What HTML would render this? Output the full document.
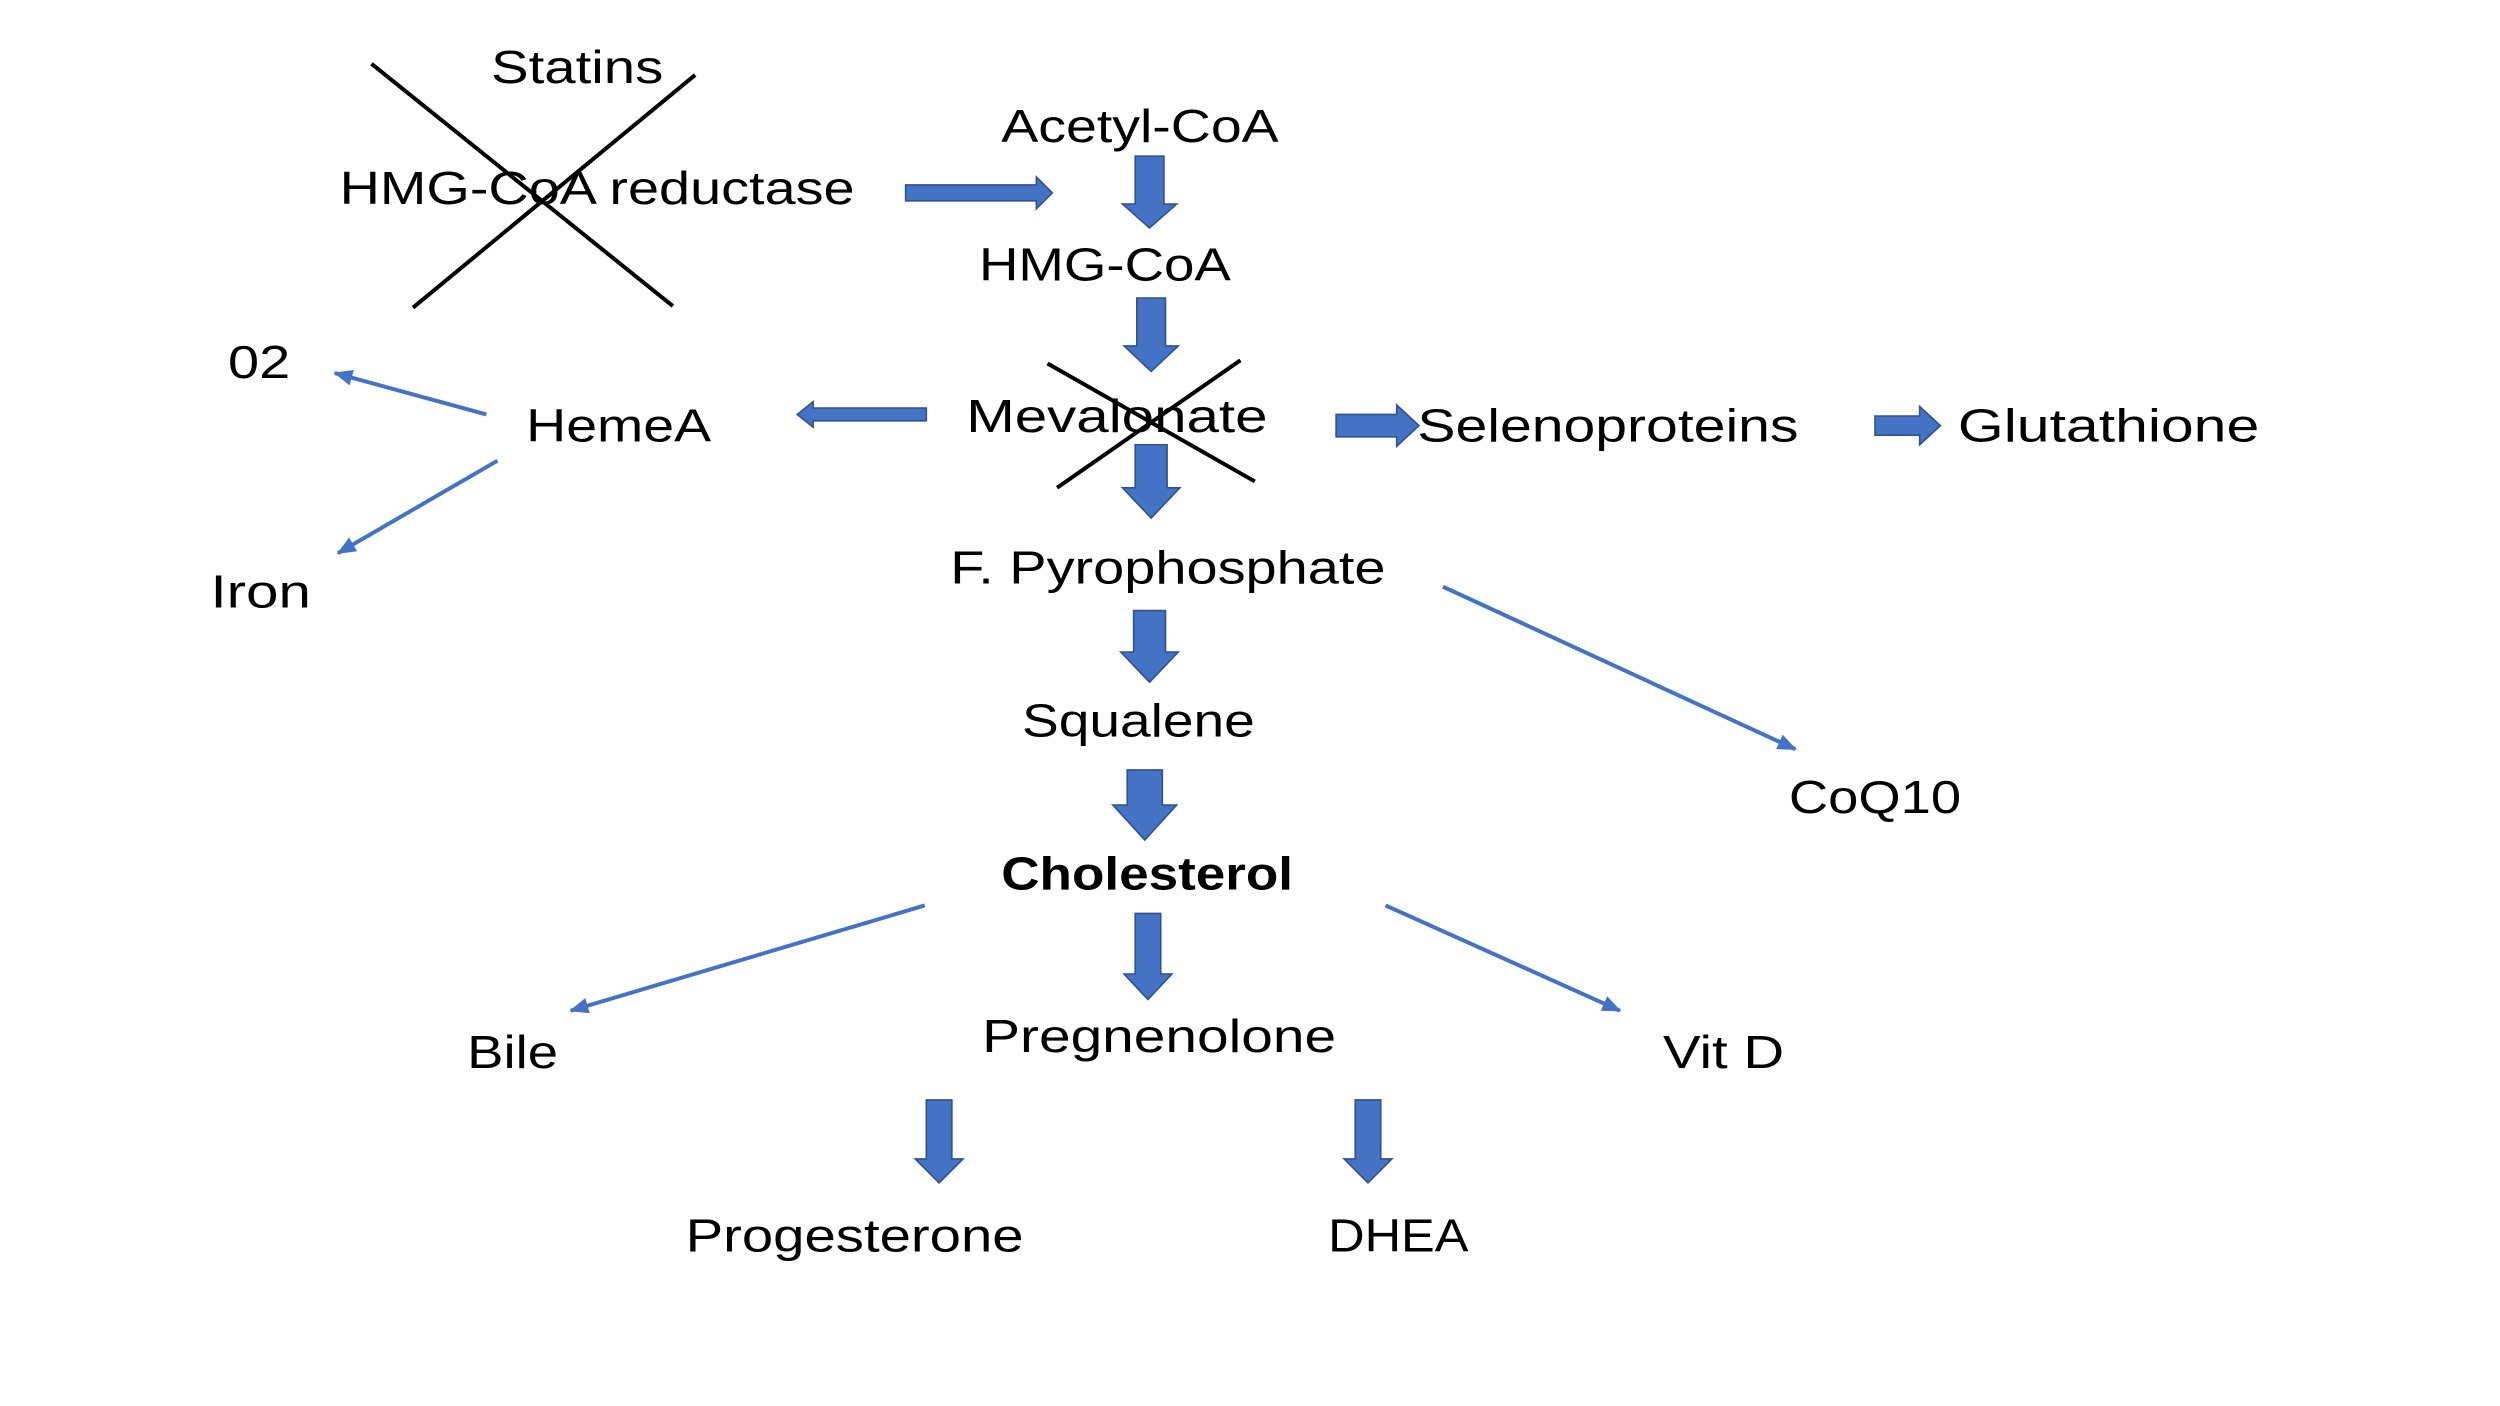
<!DOCTYPE html>
<html><head><meta charset="utf-8"><style>
html,body{margin:0;padding:0;background:#fff;}
svg{display:block;}
text{font-family:"Liberation Sans",sans-serif;font-size:29px;fill:#000;}
</style></head><body>
<svg width="2500" height="1406" viewBox="0 0 1568 882" preserveAspectRatio="none" xmlns="http://www.w3.org/2000/svg">
<defs>
<marker id="ah" markerWidth="12" markerHeight="10" refX="11" refY="5" orient="auto" markerUnits="userSpaceOnUse" viewBox="0 0 12 10">
<path d="M0,0 L12,5 L0,10 z" fill="#4472C4"/></marker>
</defs>
<rect width="1568" height="882" fill="#fff"/>
<g fill="#4472C4" stroke="#2F528F" stroke-width="1">
<polygon points="712,98 730,98 730,128 738,128 721,143 704,128 712,128"/>
<polygon points="713,187 731,187 731,217 739,217 722,233 705,217 713,217"/>
<polygon points="712,279 732,279 732,306 740,306 722,325 704,306 712,306"/>
<polygon points="711,383 731,383 731,409 739,409 721,428 703,409 711,409"/>
<polygon points="707,483 729,483 729,505 738,505 718,527 698,505 707,505"/>
<polygon points="712,573 728,573 728,611 735,611 720,627 705,611 712,611"/>
<polygon points="581,690 597,690 597,727 604,727 589,742 574,727 581,727"/>
<polygon points="850,690 866,690 866,727 873,727 858,742 843,727 850,727"/>
<polygon points="568,116 650,116 650,111 660,121 650,131 650,126 568,126"/>
<polygon points="838,260 876,260 876,254 890,267 876,280 876,274 838,274"/>
<polygon points="1176,261 1204,261 1204,255 1217,267 1204,279 1204,273 1176,273"/>
<polygon points="581,256 510,256 510,252 500,260 510,268 510,264 581,264"/>
</g>
<g stroke="#4472C4" stroke-width="2.5" fill="none" marker-end="url(#ah)">
<line x1="305" y1="260" x2="210" y2="234"/>
<line x1="312" y1="289" x2="212" y2="347"/>
<line x1="905" y1="368" x2="1126" y2="470"/>
<line x1="580" y1="568" x2="358" y2="634"/>
<line x1="869" y1="568" x2="1016" y2="634"/>
</g>
<g stroke="#000" stroke-width="2.5">
<line x1="233" y1="40" x2="422" y2="192"/>
<line x1="436" y1="47" x2="259" y2="193"/>
<line x1="657" y1="228" x2="787" y2="302"/>
<line x1="778" y1="226" x2="663" y2="306"/>
</g>
<text x="308" y="52" textLength="108" lengthAdjust="spacingAndGlyphs">Statins</text>
<text x="213" y="128" textLength="323" lengthAdjust="spacingAndGlyphs">HMG-CoA reductase</text>
<text x="628" y="89" textLength="174" lengthAdjust="spacingAndGlyphs">Acetyl-CoA</text>
<text x="614" y="176" textLength="158" lengthAdjust="spacingAndGlyphs">HMG-CoA</text>
<text x="143" y="237" textLength="39" lengthAdjust="spacingAndGlyphs">02</text>
<text x="330" y="277" textLength="116" lengthAdjust="spacingAndGlyphs">HemeA</text>
<text x="606" y="271" textLength="189" lengthAdjust="spacingAndGlyphs">Mevalonate</text>
<text x="889" y="277" textLength="239" lengthAdjust="spacingAndGlyphs">Selenoproteins</text>
<text x="1228" y="277" textLength="189" lengthAdjust="spacingAndGlyphs">Glutathione</text>
<text x="132" y="381" textLength="63" lengthAdjust="spacingAndGlyphs">Iron</text>
<text x="596" y="366" textLength="273" lengthAdjust="spacingAndGlyphs">F. Pyrophosphate</text>
<text x="641" y="462" textLength="146" lengthAdjust="spacingAndGlyphs">Squalene</text>
<text x="1122" y="510" textLength="108" lengthAdjust="spacingAndGlyphs">CoQ10</text>
<text x="628" y="558" textLength="183" lengthAdjust="spacingAndGlyphs" font-weight="bold">Cholesterol</text>
<text x="293" y="670" textLength="57" lengthAdjust="spacingAndGlyphs">Bile</text>
<text x="616" y="660" textLength="222" lengthAdjust="spacingAndGlyphs">Pregnenolone</text>
<text x="1043" y="670" textLength="76" lengthAdjust="spacingAndGlyphs">Vit D</text>
<text x="430" y="785" textLength="212" lengthAdjust="spacingAndGlyphs">Progesterone</text>
<text x="833" y="785" textLength="88" lengthAdjust="spacingAndGlyphs">DHEA</text>
</svg>
</body></html>
